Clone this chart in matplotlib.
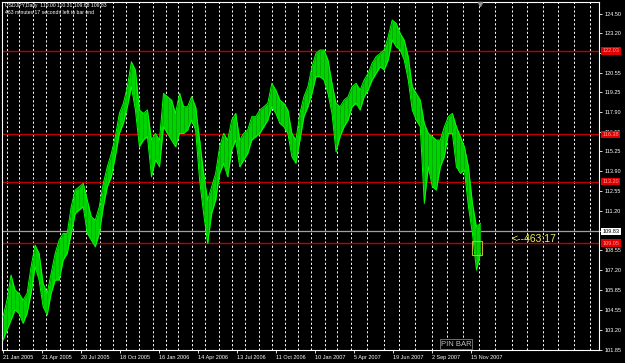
import numpy as np
import pandas as pd
import matplotlib
matplotlib.use("Agg")
import matplotlib.pyplot as plt
from matplotlib.patches import Rectangle

plt.rcParams['font.family'] = ['Liberation Sans', 'DejaVu Sans']

# USDJPY daily, high/low (~6 bars per column)
highs = [104.08, 105.20, 106.89, 105.88, 105.65, 105.20, 105.65, 107.45, 108.91, 108.35,
         106.33, 105.65, 107.00, 108.35, 109.25, 109.70, 109.70, 111.50, 112.63, 112.85,
         113.08, 111.95, 110.83, 110.60, 111.50, 113.08, 114.20, 115.10, 116.23, 117.80,
         118.48, 119.60, 121.29, 120.73, 118.03, 117.80, 118.03, 116.00, 116.45, 116.00,
         119.15, 118.93, 118.70, 117.80, 119.15, 118.25, 118.25, 118.93, 118.25, 116.00,
         113.75, 111.95, 112.85, 113.75, 115.55, 116.45, 116.00, 117.35, 117.80, 116.00,
         116.45, 116.68, 117.58, 117.58, 118.03, 118.25, 118.48, 119.83, 119.38, 118.70,
         118.48, 118.03, 116.45, 116.00, 117.80, 118.93, 119.60, 120.95, 121.85, 122.08,
         122.08, 121.40, 119.83, 118.48, 118.25, 118.70, 118.93, 119.60, 119.83, 119.38,
         120.05, 120.50, 121.18, 121.63, 121.85, 122.08, 122.98, 124.10, 123.88, 123.20,
         122.75, 121.63, 119.60, 119.15, 118.70, 117.13, 116.45, 116.23, 116.00, 116.00,
         116.90, 117.58, 117.80, 116.90, 116.23, 115.55, 114.20, 111.73, 110.15, 110.38]
lows = [102.50, 103.18, 103.85, 104.53, 104.30, 103.63, 104.30, 105.65, 107.45, 106.55,
        104.75, 104.19, 105.65, 106.55, 106.55, 107.90, 108.35, 109.70, 111.05, 111.28,
        111.50, 109.70, 109.25, 108.80, 109.70, 111.50, 112.85, 113.53, 114.88, 116.45,
        117.13, 118.25, 119.60, 118.03, 115.55, 116.00, 116.23, 113.53, 114.65, 114.20,
        116.90, 116.45, 116.00, 115.55, 116.45, 116.45, 116.68, 117.35, 116.68, 113.30,
        111.05, 109.03, 111.05, 111.95, 113.75, 114.43, 113.53, 115.33, 116.00, 114.20,
        114.65, 115.10, 116.00, 116.23, 116.45, 116.90, 117.35, 118.25, 117.80, 117.13,
        116.90, 116.45, 114.88, 114.43, 116.00, 117.58, 118.25, 119.15, 120.28, 120.28,
        120.05, 119.15, 117.80, 115.21, 116.23, 116.90, 117.35, 118.25, 118.48, 118.03,
        118.93, 119.38, 120.05, 120.50, 120.95, 120.73, 121.40, 122.75, 122.30, 122.08,
        121.40, 120.05, 118.03, 117.35, 116.90, 111.73, 114.20, 112.85, 112.63, 114.20,
        114.88, 116.45, 116.45, 114.20, 113.75, 113.98, 111.50, 109.70, 107.23, 108.35]

levels = [122.03, 116.38, 113.20, 109.05]
bid = 109.83
price_ticks = [124.50, 123.20, 121.85, 120.55, 119.25, 117.90, 116.55, 115.25, 113.90,
               112.55, 111.20, 109.85, 108.55, 107.20, 105.85, 104.55, 103.20, 101.85]
date_labels = ['21 Jan 2005', '21 Apr 2005', '20 Jul 2005', '18 Oct 2005', '16 Jan 2006',
               '14 Apr 2006', '13 Jul 2006', '11 Oct 2006', '10 Jan 2007', '5 Apr 2007',
               '19 Jun 2007', '2 Sep 2007', '15 Nov 2007']

# bar calendar: weekdays, broker adds Sunday bars from mid March 2007
days = pd.date_range('2005-01-21', '2008-09-30')
keep = (days.dayofweek < 5) | ((days.dayofweek == 6) & (days >= '2007-03-18'))
keep &= days != pd.Timestamp('2007-01-01')
cal = days[keep]
last_bar = cal.get_loc(pd.Timestamp('2007-12-04'))
px = 0.609  # pixels per bar
x_right = 596 / px
month_starts = np.flatnonzero(cal.month[1:] != cal.month[:-1]) + 1
month_starts = month_starts[month_starts < x_right]

fig = plt.figure(figsize=(6.25, 3.63), dpi=100, facecolor='black')
ax = fig.add_axes([2 / 625, 13 / 363, 597 / 625, 348 / 363], facecolor='black')
ax.set_xlim(-1 / px, x_right)
ax.set_ylim(101.83, 125.32)

ax.vlines(month_starts, 101.83, 125.32, colors='white', lw=0.7,
          linestyles=(0, (2.2, 2.2)), zorder=1)
for lv in levels:
    ax.axhline(lv, color='#c00000', lw=1.0, zorder=2)
ax.axhline(bid, color='#a0a0a0', lw=0.9, zorder=2)

xs = np.linspace(0, last_bar, len(highs))
ax.fill_between(xs, lows, highs, color='#00d400', lw=0, zorder=3)
ax.vlines(xs, lows, highs, colors='#00a000', lw=0.5, zorder=3)
ax.plot(xs, highs, color='#00ff00', lw=0.7, zorder=4)
ax.plot(xs, lows, color='#00ff00', lw=0.7, zorder=4)

# pin bar box and chart-shift marker
ax.add_patch(Rectangle((770, 108.24), 16, 0.96, fill=False, ec='#c8b040', lw=0.8, zorder=5))
ax.plot([last_bar], [125.2], marker='v', ms=3, color='#909090', zorder=5, clip_on=False)

for s in ax.spines.values():
    s.set_color('white')
    s.set_linewidth(0.8)

ax.yaxis.tick_right()
ax.set_yticks(price_ticks)
ax.set_yticklabels([f'{v:.2f}' for v in price_ticks])
ax.tick_params(axis='y', colors='white', labelsize=4, length=2, width=0.6, pad=2)
ax.set_xticks(np.arange(len(date_labels)) * 64)
ax.set_xticklabels(date_labels)
ax.tick_params(axis='x', colors='white', labelsize=4, length=2, width=0.6, pad=1.5)
for t in ax.get_xticklabels():
    t.set_ha('left')

for lv in levels:
    ax.annotate(f'{lv:.2f}', xy=(1, lv), xycoords=('axes fraction', 'data'),
                xytext=(2.5, 0), textcoords='offset points', va='center', ha='left',
                fontsize=4, color='#ff9a9a', zorder=6,
                bbox=dict(boxstyle='square,pad=0.25', fc='#e00000', ec='none'))
ax.annotate(f'{bid:.2f}', xy=(1, bid), xycoords=('axes fraction', 'data'),
            xytext=(2.5, 0), textcoords='offset points', va='center', ha='left',
            fontsize=4, color='black', zorder=6,
            bbox=dict(boxstyle='square,pad=0.25', fc='white', ec='none'))

fig.text(5 / 625, 1 - 6 / 363, 'USDJPY,Daily  110.00 110.31 109.68 109.83',
         color='white', fontsize=3.7, va='center')
fig.text(5 / 625, 1 - 12 / 363, '463 minutes 17 seconds left to bar end',
         color='white', fontsize=3.7, va='center')
fig.text(512 / 625, 1 - 239 / 363, '<--463:17', color='#f0f060', fontsize=7.5, va='center')
fig.text(456 / 625, 1 - 344 / 363, 'PIN BAR', color='#c0c0c0', fontsize=5.5,
         va='center', ha='center',
         bbox=dict(boxstyle='square,pad=0.15', fc='black', ec='#808080', lw=0.6))

fig.savefig('out.png', dpi=100, facecolor='black')
